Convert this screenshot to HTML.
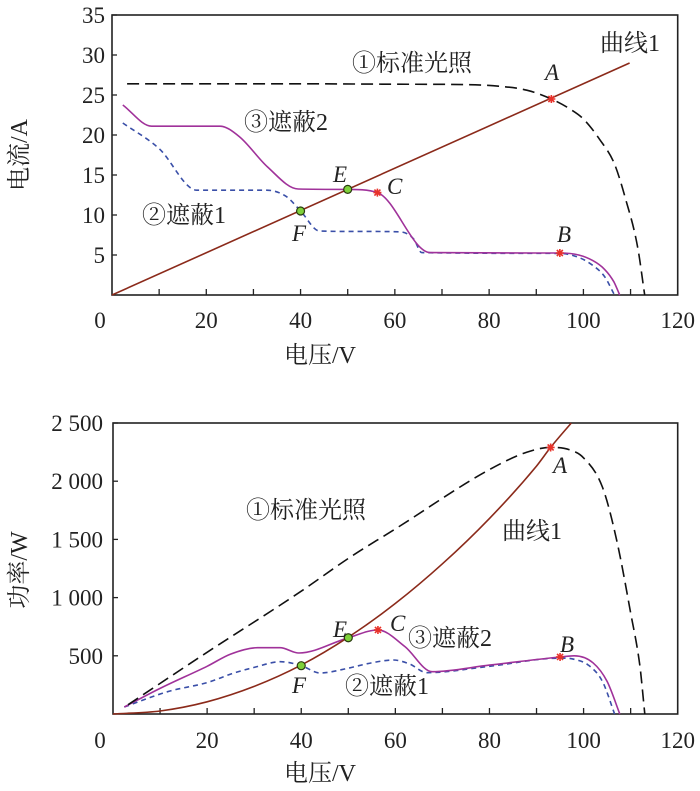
<!DOCTYPE html>
<html><head><meta charset="utf-8">
<style>
html,body{margin:0;padding:0;background:#fff;}
svg{display:block;}
text{font-family:"Liberation Serif","Noto Serif CJK SC",serif;fill:#222;}
</style></head>
<body>
<svg id="fig" width="700" height="791" viewBox="0 0 700 791"></svg>
<script>
// ===== Top chart (I-V) data =====
const ivStdV = [3.2, 20, 40, 60, 75, 82, 88, 93.2, 97, 100, 103.5, 106.5, 109, 111.5, 113];
const ivStdI = [26.4, 26.4, 26.4, 26.35, 26.3, 26.1, 25.6, 24.5, 23.3, 22, 19.4, 16.5, 11.9, 6, 0];
const ivC1V = [0, 109.8];
const ivC1I = [0, 29];
const ivS2V = [2.3, 8.4, 22.9, 27, 33, 39.5, 50, 56.3, 67.5, 95, 99, 102, 104.5, 106.5, 107.7];
const ivS2I = [23.75, 21.1, 21.1, 19.8, 16, 13.25, 13.2, 12.8, 5.3, 5.25, 5.0, 4.3, 3.2, 1.6, 0];
const ivS1V = [2.3, 10, 18, 32.8, 37, 40, 44, 50, 61, 64, 65.7, 95, 99, 102, 104.5, 106.6];
const ivS1I = [21.5, 18.3, 13.1, 13.1, 12.3, 10.5, 8.0, 7.95, 7.9, 7.0, 5.3, 5.2, 4.7, 3.7, 2.3, 0];
const ivTicksX = [0, 20, 40, 60, 80, 100, 120];
const ivTicksY = [5, 10, 15, 20, 25, 30, 35];
const ivPtsName = ["A", "B", "C", "E", "F"];
const ivPtsV = [93.2, 95, 56.3, 50, 40];
const ivPtsI = [24.5, 5.25, 12.8, 13.2, 10.5];

// ===== Bottom chart (P-V) data =====
const pvStdV = [3.2, 20, 40, 50.5, 60, 80, 88, 93, 97, 100, 104, 107, 110, 112, 113];
const pvStdP = [80, 530, 1055, 1350, 1590, 2100, 2250, 2290, 2270, 2200, 1950, 1500, 870, 400, 0];
const pvC1V = [0, 10, 20, 30, 40, 50, 60, 70, 80, 90, 93, 97.4];
const pvC1P = [0, 26, 105, 237, 420, 660, 950, 1290, 1680, 2130, 2290, 2500];
const pvS2V = [2.4, 10, 20, 25, 30.7, 35.5, 39.5, 50, 56.3, 62, 67.8, 80, 95, 98, 102, 105, 107.7];
const pvS2P = [60, 220, 410, 515, 570, 570, 524, 655, 722, 580, 363, 420, 490, 500, 440, 280, 0];
const pvS1V = [2.4, 11.6, 20, 25.7, 30, 35.6, 40, 44, 49.8, 55, 59.6, 63, 66.7, 80, 95, 98, 101, 104, 106.6];
const pvS1P = [60, 192, 270, 352, 400, 449, 415, 352, 392, 440, 464, 430, 355, 410, 480, 470, 420, 280, 0];
const pvTicksX = [0, 20, 40, 60, 80, 100, 120];
const pvTicksY = [500, 1000, 1500, 2000, 2500];
const pvTickLabels = ["500", "1 000", "1 500", "2 000", "2 500"];
const pvPtsName = ["A", "B", "C", "E", "F"];
const pvPtsV = [93, 95, 56.3, 50, 40];
const pvPtsP = [2290, 490, 722, 655, 415];

const NS = "http://www.w3.org/2000/svg";
const svg = document.getElementById("fig");
function mk(tag, attrs, parent) {
  const e = document.createElementNS(NS, tag);
  for (const k in attrs) e.setAttribute(k, attrs[k]);
  (parent || svg).appendChild(e);
  return e;
}
// monotone cubic (Fritsch-Carlson) path; xs must be increasing
function smoothPath(xs, ys) {
  const n = xs.length;
  if (n < 3) return "M" + xs.map((x, i) => x.toFixed(1) + "," + ys[i].toFixed(1)).join(" L");
  const d = [], m = new Array(n);
  for (let i = 0; i < n - 1; i++) d.push((ys[i + 1] - ys[i]) / (xs[i + 1] - xs[i]));
  m[0] = d[0]; m[n - 1] = d[n - 2];
  for (let i = 1; i < n - 1; i++) m[i] = (d[i - 1] * d[i] <= 0) ? 0 : (d[i - 1] + d[i]) / 2;
  for (let i = 0; i < n - 1; i++) {
    if (d[i] === 0) { m[i] = 0; m[i + 1] = 0; continue; }
    const a = m[i] / d[i], b = m[i + 1] / d[i], s = a * a + b * b;
    if (s > 9) { const t = 3 / Math.sqrt(s); m[i] = t * a * d[i]; m[i + 1] = t * b * d[i]; }
  }
  let p = "M" + xs[0].toFixed(1) + "," + ys[0].toFixed(1);
  for (let i = 0; i < n - 1; i++) {
    const h = (xs[i + 1] - xs[i]) / 3;
    p += " C" + (xs[i] + h).toFixed(1) + "," + (ys[i] + m[i] * h).toFixed(1) + " " +
      (xs[i + 1] - h).toFixed(1) + "," + (ys[i + 1] - m[i + 1] * h).toFixed(1) + " " +
      xs[i + 1].toFixed(1) + "," + ys[i + 1].toFixed(1);
  }
  return p;
}
function star(g, x, y) {
  mk("path", {d: `M${x-4},${y} L${x+4},${y} M${x},${y-4} L${x},${y+4} M${x-3},${y-3} L${x+3},${y+3} M${x-3},${y+3} L${x+3},${y-3}`, stroke: "#e8322a", "stroke-width": 1.6}, g);
}
function dot(g, x, y) {
  mk("circle", {cx: x, cy: y, r: 4, fill: "#7fd13b", stroke: "#2a3a10", "stroke-width": 1.2}, g);
}
function label(g, x, y, txt, opts) {
  const t = mk("text", Object.assign({x: x, y: y, "font-size": 23}, opts || {}), g);
  t.textContent = txt;
  return t;
}

// ---------- Top chart ----------
const T = {l: 112, r: 677.7, t: 15, b: 295};
const tx = v => T.l + v / 120 * (T.r - T.l);
const ty = i => T.b - i / 35 * (T.b - T.t);
const gTop = mk("g", {});


const topFrame = mk("rect", {x: T.l, y: T.t, width: T.r - T.l, height: T.b - T.t, fill: "none", stroke: "#222", "stroke-width": 1.6}, gTop);


for (let v = 10; v < 120; v += 10) {
  mk("line", {x1: tx(v), x2: tx(v), y1: T.b, y2: T.b - 6, stroke: "#222", "stroke-width": 1.3}, gTop);
}
ivTicksX.forEach(v => {
  const t = label(gTop, v === 0 ? 100 : tx(v), 328, String(v), {"text-anchor": "middle"});
  
  
});
ivTicksY.forEach(v => {
  mk("line", {x1: T.l, x2: T.l + 5, y1: ty(v), y2: ty(v), stroke: "#222", "stroke-width": 1.3}, gTop);
  const t = label(gTop, 105, ty(v) + 8, String(v), {"text-anchor": "end"});
  
  
});
const ivXT = label(gTop, 320, 363, "电压/V", {"text-anchor": "middle", "font-size": 24});


const ivYT = label(gTop, 0, 0, "电流/A", {"text-anchor": "middle", "font-size": 24, transform: "translate(27,155) rotate(-90)"});



const s1 = mk("path", {d: smoothPath(ivS1V.map(tx), ivS1I.map(ty)), fill: "none", stroke: "#3a4fa8", "stroke-width": 1.6, "stroke-dasharray": "5,4"}, gTop);


const s2 = mk("path", {d: smoothPath(ivS2V.map(tx), ivS2I.map(ty)), fill: "none", stroke: "#a0329a", "stroke-width": 1.6}, gTop);


const st = mk("path", {d: smoothPath(ivStdV.map(tx), ivStdI.map(ty)), fill: "none", stroke: "#111", "stroke-width": 1.6, "stroke-dasharray": "12,6"}, gTop);


const c1 = mk("path", {d: smoothPath(ivC1V.map(tx), ivC1I.map(ty)), fill: "none", stroke: "#8b2a1a", "stroke-width": 1.6}, gTop);



ivPtsName.forEach((n, i) => {
  const x = tx(ivPtsV[i]), y = ty(ivPtsI[i]);
  if (n === "E" || n === "F") dot(gTop, x, y); else star(gTop, x, y);
});
const ivLbl = {A: [545, 80], B: [557, 242], C: [387, 194], E: [333, 182], F: [292, 241]};
for (const n in ivLbl) {
  const t = label(gTop, ivLbl[n][0], ivLbl[n][1], n, {"font-style": "italic"});
  
  
}
const l1 = label(gTop, 352, 71, "①标准光照", {"font-size": 24});
 
const l2 = label(gTop, 600, 51, "曲线1", {"font-size": 24});
 
const l3 = label(gTop, 244, 130, "③遮蔽2", {"font-size": 24});
 
const l4 = label(gTop, 142, 223, "②遮蔽1", {"font-size": 24});
 

// ---------- Bottom chart ----------
const B = {l: 113, r: 677.7, t: 423, b: 714};
const bx = v => B.l + v / 120 * (B.r - B.l);
const by = p => B.b - p / 2500 * (B.b - B.t);
const gBot = mk("g", {});


const botFrame = mk("rect", {x: B.l, y: B.t, width: B.r - B.l, height: B.b - B.t, fill: "none", stroke: "#222", "stroke-width": 1.6}, gBot);


for (let v = 10; v < 120; v += 10) {
  mk("line", {x1: bx(v), x2: bx(v), y1: B.b, y2: B.b - 6, stroke: "#222", "stroke-width": 1.3}, gBot);
}
pvTicksX.forEach(v => {
  const t = label(gBot, v === 0 ? 100 : bx(v), 748, String(v), {"text-anchor": "middle"});
  
  
});
pvTicksY.forEach((v, i) => {
  mk("line", {x1: B.l, x2: B.l + 5, y1: by(v), y2: by(v), stroke: "#222", "stroke-width": 1.3}, gBot);
  const t = label(gBot, 103, by(v) + 8, pvTickLabels[i], {"text-anchor": "end"});
  
  
});
const pvXT = label(gBot, 320, 781, "电压/V", {"text-anchor": "middle", "font-size": 24});


const pvYT = label(gBot, 0, 0, "功率/W", {"text-anchor": "middle", "font-size": 24, transform: "translate(27,570) rotate(-90)"});



const ps1 = mk("path", {d: smoothPath(pvS1V.map(bx), pvS1P.map(by)), fill: "none", stroke: "#3a4fa8", "stroke-width": 1.6, "stroke-dasharray": "5,4"}, gBot);


const ps2 = mk("path", {d: smoothPath(pvS2V.map(bx), pvS2P.map(by)), fill: "none", stroke: "#a0329a", "stroke-width": 1.6}, gBot);


const pst = mk("path", {d: smoothPath(pvStdV.map(bx), pvStdP.map(by)), fill: "none", stroke: "#111", "stroke-width": 1.6, "stroke-dasharray": "12,6"}, gBot);


const pc1 = mk("path", {d: smoothPath(pvC1V.map(bx), pvC1P.map(by)), fill: "none", stroke: "#8b2a1a", "stroke-width": 1.6}, gBot);



pvPtsName.forEach((n, i) => {
  const x = bx(pvPtsV[i]), y = by(pvPtsP[i]);
  if (n === "E" || n === "F") dot(gBot, x, y); else star(gBot, x, y);
});
const pvLbl = {A: [553, 473], B: [560, 652], C: [390, 631], E: [333, 637], F: [292, 693]};
for (const n in pvLbl) {
  const t = label(gBot, pvLbl[n][0], pvLbl[n][1], n, {"font-style": "italic"});
  
  
}
const m1 = label(gBot, 246, 518, "①标准光照", {"font-size": 24});
 
const m2 = label(gBot, 502, 539, "曲线1", {"font-size": 24});
 
const m3 = label(gBot, 408, 646, "③遮蔽2", {"font-size": 24});
 
const m4 = label(gBot, 345, 694, "②遮蔽1", {"font-size": 24});
 
</script>
</body></html>
